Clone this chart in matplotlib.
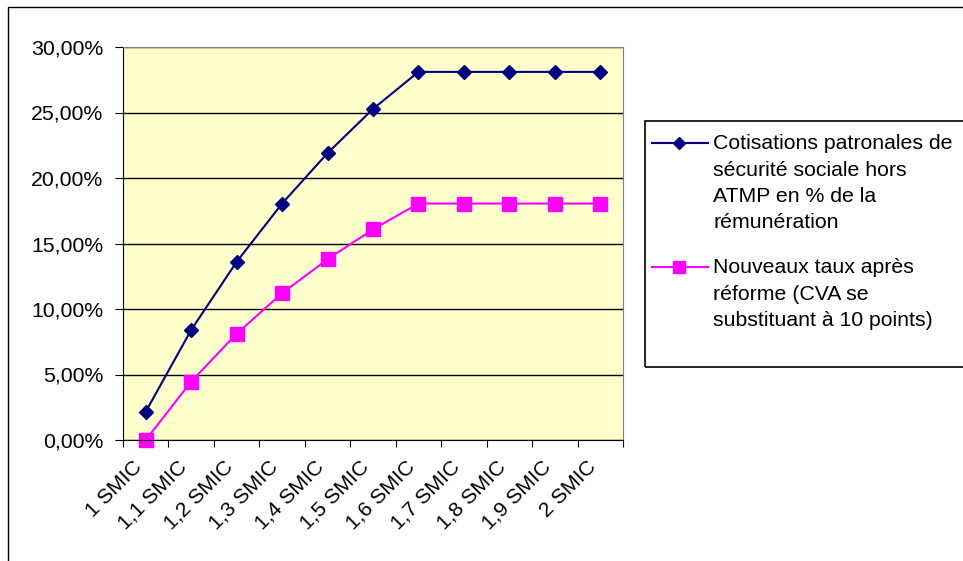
import matplotlib.pyplot as plt
from matplotlib.patches import Rectangle
from matplotlib.lines import Line2D
from matplotlib.ticker import FuncFormatter
from matplotlib.transforms import ScaledTranslation

plt.rcParams['font.family'] = ['Liberation Sans', 'DejaVu Sans']

categories = ["1 SMIC", "1,1 SMIC", "1,2 SMIC", "1,3 SMIC", "1,4 SMIC", "1,5 SMIC",
              "1,6 SMIC", "1,7 SMIC", "1,8 SMIC", "1,9 SMIC", "2 SMIC"]
cotisations = [2.16, 8.4, 13.6, 18.05, 21.9, 25.27, 28.1, 28.1, 28.1, 28.1, 28.1]
nouveaux = [0.0, 4.45, 8.12, 11.2, 13.8, 16.08, 18.05, 18.05, 18.05, 18.05, 18.05]

label_1 = "Cotisations patronales de\nsécurité sociale hors\nATMP en % de la\nrémunération"
label_2 = "Nouveaux taux après\nréforme (CVA se\nsubstituant à 10 points)"

W, H = 963, 561
FS = 15.3
blue = '#000080'
pink = '#FF00FF'

fig = plt.figure(figsize=(W / 100, H / 100), dpi=100)

# cadre extérieur
fig.patches.append(Rectangle((8 / W, -0.01), 1.0, (H - 7) / H + 0.01,
                             transform=fig.transFigure, fill=False, edgecolor='black', lw=1))

ax = fig.add_axes([123 / W, 121 / H, 500 / W, 393 / H])
ax.set_facecolor('#FFFFCC')

x = list(range(len(categories)))
ax.plot(x, cotisations, color=blue, marker='D', markersize=7.5, lw=1.5)
ax.plot(x, nouveaux, color=pink, marker='s', markersize=10, lw=1.5, clip_on=False)

ax.set_xlim(-0.5, len(categories) - 0.5)
ax.set_ylim(0, 30)
ax.set_yticks([0, 5, 10, 15, 20, 25, 30])
ax.yaxis.set_major_formatter(FuncFormatter(lambda v, p: f"{v:.2f}%".replace('.', ',')))
ax.yaxis.grid(True, color='black', lw=1)
ax.set_axisbelow(True)

ax.set_xticks([i - 0.5 for i in range(len(categories) + 1)])
ax.set_xticklabels([])
ax.set_xticks(x, minor=True)
ax.set_xticklabels(categories, minor=True, rotation=45, ha='right', va='center',
                   rotation_mode='anchor', fontsize=FS)
ax.tick_params(axis='x', which='minor', length=0, pad=17)
ax.tick_params(axis='x', which='major', length=5, direction='out')
ax.tick_params(axis='y', length=6, direction='out', labelsize=FS, pad=8)
for lab in ax.get_xticklabels(minor=True):
    lab.set_transform(lab.get_transform() + ScaledTranslation(-0.07, 0, fig.dpi_scale_trans))

for s in ['top', 'right']:
    ax.spines[s].set_color('#808080')
for s in ['left', 'bottom']:
    ax.spines[s].set_color('black')

# légende
fig.patches.append(Rectangle((645 / W, 1 - 367 / H), 1.0, (367 - 121) / H,
                             transform=fig.transFigure, fill=False, edgecolor='black', lw=1.2))
entries = [(label_1, blue, 'D', 6, 143), (label_2, pink, 's', 8, 267)]
for label, col, mk, ms, yc in entries:
    fig.lines.append(Line2D([652 / W, 708 / W], [1 - yc / H, 1 - yc / H], transform=fig.transFigure,
                            color=col, lw=1.5))
    fig.lines.append(Line2D([679 / W], [1 - yc / H], transform=fig.transFigure,
                            color=col, marker=mk, markersize=ms, lw=0))
    fig.text(713 / W, 1 - (yc - 9) / H, label, fontsize=FS, va='top', ha='left', linespacing=1.5)

fig.savefig('out.png', dpi=100)
